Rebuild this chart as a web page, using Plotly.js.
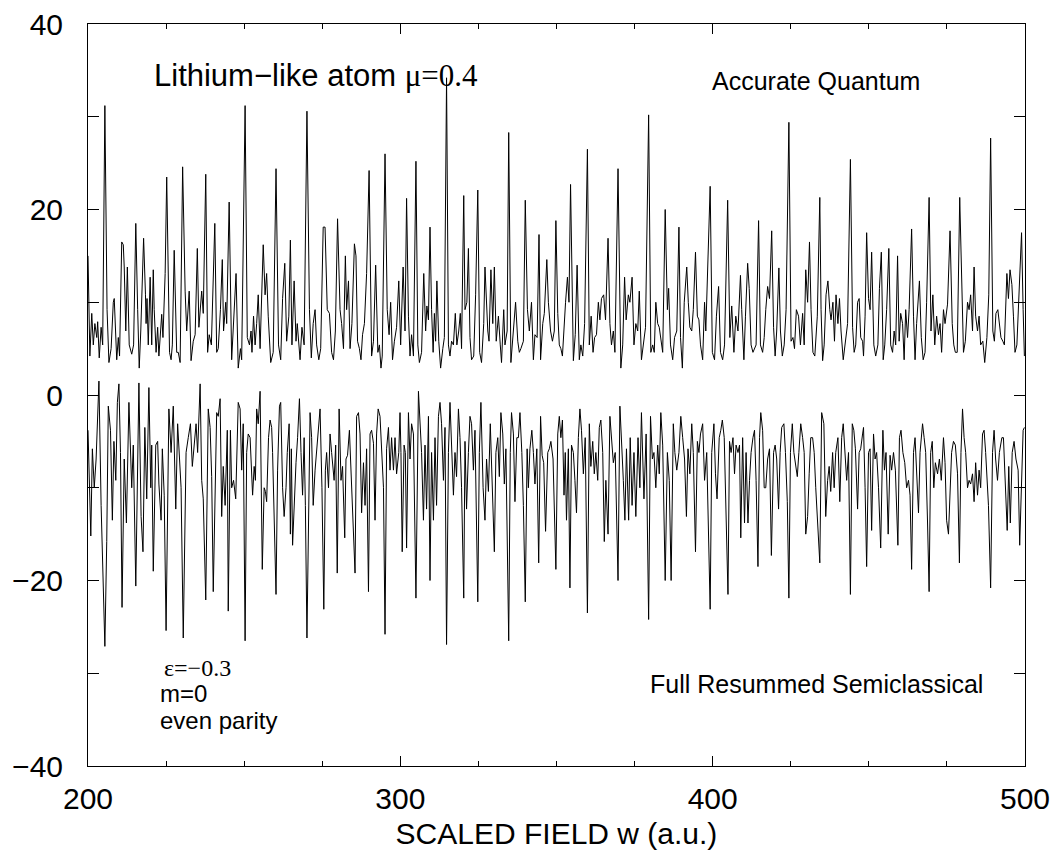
<!DOCTYPE html>
<html><head><meta charset="utf-8">
<script src="https://cdn.plot.ly/plotly-3.0.1.min.js"></script>
<style>html,body{margin:0;padding:0;background:#fff}</style>
</head><body>
<div id="chart" style="width:1055px;height:852px"></div>
<script>
// Accurate quantum curve, read as [w, value] pairs in six pieces
const quantum1 = [[200.0,15.0],[200.6,4.2],[201.2,8.8],[201.7,5.4],[202.2,7.7],[202.8,6.2],[203.1,7.9],[203.6,4.0],[204.2,7.3],[204.7,5.4],[205.4,31.2],[206.1,9.2],[206.7,3.5],[207.4,5.0],[208.1,10.0],[208.4,10.4],[209.2,3.8],[209.7,6.2],[210.1,4.2],[210.8,16.5],[211.3,16.2],[211.6,13.8],[212.1,6.9],[212.6,13.8],[213.2,5.4],[214.0,4.4],[214.6,5.4],[215.3,18.5],[215.9,9.2],[216.4,2.9],[216.9,6.9],[217.8,16.9],[218.4,10.8],[218.6,7.7],[218.9,10.4],[219.3,5.4],[219.9,12.7],[220.4,5.4],[220.9,13.5],[221.2,9.2],[221.8,4.6],[222.3,7.3],[222.7,4.2],[223.6,8.7],[224.0,6.2],[224.7,13.1],[225.2,23.5],[225.7,9.2],[226.1,4.6],[226.6,3.8],[227.0,5.4],[227.6,15.6],[228.4,4.6],[228.9,4.6],[229.5,3.5],[230.3,24.6],[231.1,11.2],[231.6,6.9],[232.4,11.2],[233.0,3.7],[233.7,5.8],[234.3,6.5],[235.0,15.8],[235.5,7.3],[236.4,11.2],[236.9,8.8],[237.7,23.8],[238.3,4.6],[238.8,6.5],[239.5,5.4],[240.6,18.5],[241.2,4.6],[241.7,5.0],[242.4,9.2],[243.0,14.6],[243.4,6.9],[244.1,10.0],[244.4,7.7],[245.2,20.8],[246.0,3.8],[246.7,8.5],[247.4,13.1],[248.1,2.9],[248.8,5.0],[249.2,3.8]];
const quantum2 = [[250.3,31.2],[251.0,6.2],[251.7,5.4],[252.2,6.9],[252.5,4.6],[253.0,8.5],[253.5,5.4],[254.0,7.7],[254.5,10.8],[255.1,5.0],[256.1,16.2],[256.7,10.8],[257.2,13.1],[257.7,8.5],[258.5,3.5],[259.3,4.6],[260.2,24.4],[261.0,5.4],[261.7,3.8],[262.3,10.4],[263.0,14.2],[263.6,5.8],[264.3,8.5],[264.8,16.7],[265.3,5.4],[266.0,12.3],[266.6,5.8],[267.0,7.7],[267.9,3.8],[268.5,7.3],[269.2,5.4],[270.1,30.6],[270.9,9.2],[271.5,4.0],[272.1,7.7],[272.7,9.2],[273.2,5.4],[273.9,3.8],[274.5,5.0],[275.3,18.1],[275.9,18.1],[276.6,9.2],[277.3,8.8],[278.0,4.6],[278.6,3.8],[279.2,6.9],[279.9,19.0],[280.7,9.2],[281.2,7.7],[281.8,5.0],[282.4,15.0],[282.8,9.2],[283.4,12.3],[283.9,5.0],[284.5,7.7],[285.3,16.3],[285.8,15.0],[286.3,5.8],[286.9,5.0],[287.4,3.8],[287.9,6.5],[288.5,7.7],[289.2,13.1],[290.0,24.2],[290.8,4.2],[291.4,5.8],[292.1,14.0],[292.8,4.6],[293.3,5.4],[293.8,2.9],[294.2,4.2],[295.1,26.0],[295.8,9.2],[296.4,6.5],[296.9,10.0],[297.5,3.8],[298.1,5.8],[298.8,7.3],[299.5,12.3]];
const quantum3 = [[300.1,5.4],[300.9,13.8],[301.5,6.9],[302.0,21.2],[302.6,8.5],[303.1,4.2],[303.6,6.5],[304.2,4.2],[305.0,25.2],[305.6,5.4],[306.1,3.5],[306.8,4.6],[307.5,13.1],[308.1,6.9],[308.5,9.6],[309.0,8.1],[309.5,18.1],[310.0,9.2],[310.5,4.6],[310.9,8.8],[311.3,5.8],[311.7,12.3],[312.3,5.8],[312.9,2.9],[313.6,5.0],[314.1,6.2],[314.8,34.2],[315.4,5.4],[315.9,4.2],[316.4,5.8],[317.0,5.4],[317.6,8.8],[318.1,5.4],[318.7,6.9],[319.2,8.8],[319.6,5.0],[320.3,21.5],[320.7,9.2],[321.3,10.0],[321.8,15.8],[322.3,6.2],[322.8,3.8],[323.5,4.2],[324.1,10.8],[324.8,22.1],[325.4,4.6],[326.0,3.5],[326.7,7.7],[327.1,13.8],[327.5,10.0],[328.0,6.9],[328.4,5.8],[329.0,13.5],[329.6,7.7],[330.1,13.8],[330.7,5.8],[331.4,8.5],[332.0,5.4],[332.4,3.5],[333.1,9.2],[333.5,5.4],[334.2,6.9],[334.7,28.3],[335.4,3.5],[336.2,6.5],[336.9,10.0],[337.6,5.8],[338.1,4.6],[338.6,5.0],[339.4,5.8],[340.0,21.0],[340.7,9.2],[341.3,6.9],[342.0,10.0],[342.6,3.8],[343.1,6.5],[343.8,6.2],[344.4,17.3],[344.9,3.8],[345.6,7.7],[346.1,8.8],[346.9,14.6],[347.4,10.0],[348.1,6.9],[348.7,5.8],[349.3,6.9]];
const quantum4 = [[349.8,18.8],[350.4,8.8],[350.9,5.4],[351.4,5.0],[351.9,4.2],[352.4,7.7],[352.9,10.0],[353.5,12.7],[354.0,10.0],[354.5,22.7],[355.4,3.7],[356.0,6.5],[356.6,14.0],[357.3,3.8],[357.8,5.4],[358.4,4.2],[359.0,7.7],[359.9,26.5],[360.5,5.4],[361.1,8.5],[361.7,4.6],[362.2,6.2],[362.8,6.5],[363.4,10.0],[363.9,8.1],[364.4,10.4],[365.1,10.8],[365.7,8.1],[366.5,16.9],[367.1,7.7],[367.6,5.4],[368.2,6.9],[368.7,4.6],[369.7,24.4],[370.6,2.9],[371.2,5.4],[371.8,12.7],[372.3,8.1],[373.0,10.8],[373.5,10.0],[374.2,12.7],[374.8,5.4],[375.4,7.7],[376.0,6.9],[376.5,11.2],[377.2,3.8],[378.0,5.8],[378.5,7.3],[379.5,30.2],[380.2,4.6],[380.8,5.4],[381.3,4.6],[381.8,10.0],[382.4,7.7],[382.9,7.3],[383.4,6.2],[384.0,4.6],[384.8,20.0],[385.5,9.2],[385.9,11.5],[386.5,5.4],[387.2,3.8],[387.8,6.2],[388.5,6.9],[389.2,18.1],[389.7,6.2],[390.3,2.9],[390.9,10.0],[391.7,13.8],[392.2,10.0],[392.7,7.3],[393.3,6.9],[393.8,9.2],[394.5,15.4],[395.1,8.5],[395.6,8.1],[396.1,5.4],[396.8,3.8],[397.4,10.0],[397.8,6.9]];
const quantum5 = [[399.2,22.5],[399.9,4.6],[400.6,3.8],[401.2,8.5],[401.9,11.7],[402.5,4.6],[403.2,3.8],[403.8,5.4],[404.8,21.0],[405.5,6.2],[406.1,9.6],[406.8,4.6],[407.4,8.5],[408.1,6.9],[408.9,12.9],[409.3,9.2],[410.0,3.8],[410.5,8.5],[411.2,14.2],[411.7,11.5],[412.3,5.4],[412.9,4.6],[413.4,5.0],[413.9,5.4],[414.7,18.8],[415.3,5.4],[416.0,4.6],[416.5,6.2],[417.0,9.2],[417.6,11.7],[418.2,10.4],[418.9,17.7],[419.5,7.3],[420.0,4.2],[420.5,6.9],[421.2,13.7],[421.7,6.9],[422.3,4.2],[422.9,5.4],[423.5,9.2],[424.4,29.4],[425.1,5.8],[425.7,6.2],[426.2,5.0],[426.8,9.2],[427.5,8.5],[428.1,5.4],[428.8,8.8],[429.3,5.4],[429.8,13.5],[430.4,10.0],[431.0,16.5],[431.5,9.2],[432.1,4.6],[432.7,4.2],[433.5,8.5],[434.3,21.3],[434.7,9.2],[435.2,3.7],[435.7,5.4],[436.3,10.8],[436.9,12.3],[437.5,9.2],[437.9,8.1],[438.5,10.0],[439.0,5.8],[439.5,10.8],[440.1,7.7],[440.6,10.4],[441.1,6.9],[441.8,3.8],[442.4,5.8],[443.2,7.7],[444.1,25.4],[444.8,7.3],[445.3,4.6],[445.8,5.4],[446.4,10.0],[446.9,10.4],[447.4,6.2],[448.0,5.8]];
const quantum6 = [[448.3,4.2],[448.8,8.5],[449.3,17.5],[449.9,10.4],[450.4,9.2],[450.9,15.4],[451.6,5.4],[452.2,4.2],[452.9,5.4],[453.4,11.5],[454.0,15.4],[454.6,3.8],[455.1,5.4],[455.7,9.2],[456.4,15.8],[457.0,5.4],[457.6,4.6],[458.1,6.9],[458.6,5.4],[459.2,15.0],[459.7,5.8],[460.2,8.8],[460.8,7.7],[461.3,3.8],[461.8,9.2],[462.4,6.2],[462.9,9.2],[463.7,17.9],[464.3,8.5],[464.8,3.8],[465.3,7.7],[466.2,12.3],[466.8,6.2],[467.4,3.8],[468.0,4.6],[468.5,10.0],[469.3,21.3],[469.9,6.9],[470.5,10.8],[471.1,5.4],[471.7,8.5],[472.3,6.5],[472.8,7.7],[473.3,4.6],[473.9,9.2],[474.4,7.7],[475.2,9.8],[476.0,17.7],[476.7,7.7],[477.2,5.4],[477.7,4.6],[478.3,4.6],[479.1,21.3],[479.8,9.2],[480.3,4.6],[480.9,5.8],[481.6,10.0],[482.1,9.2],[482.6,10.8],[483.2,6.9],[483.7,13.8],[484.2,8.5],[484.8,6.9],[485.3,8.5],[485.8,5.4],[486.5,5.8],[487.1,3.5],[487.8,6.2],[488.4,10.8],[489.0,27.7],[489.7,6.9],[490.2,5.8],[490.7,8.8],[491.3,9.2],[491.8,7.3],[492.3,6.2],[492.9,5.8],[493.4,5.4],[494.2,13.1],[494.7,10.4],[495.2,13.5],[495.8,11.9],[496.3,8.5],[496.8,4.6],[497.4,5.4],[498.0,10.0],[498.9,17.5],[499.4,9.2],[499.8,4.2]];

// Full resummed semiclassical curve (shifted below), [w, value] pairs
const semi1 = [[200.0,-3.8],[200.3,-8.1],[200.9,-15.2],[201.4,-5.8],[202.0,-10.0],[202.6,-6.9],[203.3,0.4],[203.5,1.5],[204.2,-11.9],[204.9,-20.8],[205.4,-27.1],[206.0,-15.8],[206.5,-1.2],[207.2,-3.8],[207.8,-13.5],[208.3,-5.0],[208.9,-9.2],[209.4,-0.8],[209.9,1.2],[210.4,-6.2],[210.9,-22.9],[211.6,-6.9],[212.3,-13.8],[213.1,-0.8],[214.0,-10.0],[214.5,-5.4],[215.3,-20.6],[216.3,1.3],[217.0,-13.1],[217.6,-16.9],[218.2,-3.5],[218.8,-11.2],[219.5,0.8],[220.1,-10.0],[220.4,-5.4],[220.9,-19.0],[221.7,-5.4],[222.3,-5.0],[222.7,-9.6],[223.4,-13.5],[223.8,-5.8],[224.4,-10.8],[225.0,-25.4],[225.9,-1.5],[226.6,-6.2],[227.3,-1.2],[228.1,-12.3],[228.7,-3.1],[229.2,-6.2],[229.8,-10.0],[230.5,-26.2],[231.4,-6.2],[232.1,-4.6],[232.8,-3.1],[233.4,-7.7],[233.9,-5.4],[234.6,-3.1],[235.1,-6.2],[235.9,1.2],[236.4,-9.2],[236.9,-11.2],[237.7,-22.1],[238.5,-1.5],[239.1,-3.5],[239.6,-8.8],[240.1,-21.2],[241.2,-1.9],[241.7,-2.3],[242.3,-0.4],[242.8,-13.1],[243.3,-7.7],[243.9,-11.9],[244.6,-3.8],[244.9,-23.3],[245.6,-3.8],[246.0,-10.0],[246.6,-9.2],[247.3,-11.2],[248.1,-0.8],[248.7,-1.5],[249.2,-8.1],[249.7,-3.1]];
const semi2 = [[250.3,-26.5],[250.8,-6.2],[251.3,-4.2],[251.9,-4.6],[252.4,-8.5],[252.7,-10.8],[253.2,-7.7],[253.6,-9.2],[254.0,-1.5],[254.5,-3.1],[255.1,0.4],[255.4,-6.9],[255.8,-18.8],[256.4,-10.0],[256.8,-10.4],[257.2,-11.5],[257.8,-4.6],[258.3,-2.7],[258.8,-3.5],[259.1,-6.2],[259.7,-13.8],[260.2,-21.5],[260.7,-8.1],[261.3,-1.2],[261.7,-0.8],[262.3,-10.0],[262.8,-13.1],[263.4,-10.0],[263.8,-6.2],[264.4,-3.1],[264.8,-15.0],[265.1,-5.8],[265.5,-16.2],[266.1,-10.0],[266.6,-7.3],[267.1,-4.6],[267.7,-0.4],[268.2,-6.2],[268.7,-10.8],[269.2,-4.6],[269.6,-11.9],[270.1,-26.2],[270.7,-10.0],[271.1,-1.9],[271.6,-4.6],[272.1,-11.9],[272.7,-8.1],[273.2,-6.2],[273.8,-3.1],[274.3,-1.5],[274.9,-10.0],[275.5,-23.1],[276.0,-8.1],[276.4,-6.2],[277.0,-10.0],[277.5,-4.2],[278.0,-6.2],[278.8,-9.2],[279.3,-5.4],[279.8,-19.2],[280.4,-1.5],[281.0,-9.2],[281.5,-7.7],[282.2,-15.4],[282.6,-6.9],[283.1,-6.5],[283.7,-3.8],[284.2,-8.1],[284.7,-10.8],[285.5,-19.2],[286.0,-2.3],[286.6,-1.9],[287.1,-4.2],[287.6,-12.7],[288.2,-7.3],[288.7,-11.9],[289.2,-5.8],[289.8,-21.2],[290.3,-4.2],[290.8,-3.8],[291.4,-5.2],[291.9,-13.5],[292.4,-4.2],[292.9,-1.5],[293.5,-2.3],[294.0,-5.8],[294.6,-10.0],[295.1,-25.8],[295.6,-5.8],[296.2,-3.5],[296.7,-8.1],[297.2,-4.6],[297.8,-8.1],[298.3,-4.6],[298.8,-8.5],[299.5,-6.2]];
const semi3 = [[299.9,-1.9],[300.2,-6.2],[300.6,-16.9],[301.2,-5.4],[301.6,-6.2],[302.0,-16.5],[302.6,-1.9],[303.1,-6.9],[303.6,-3.1],[304.2,-4.2],[305.0,-21.9],[305.8,0.4],[306.3,-2.3],[306.8,-6.2],[307.4,-13.5],[307.9,-5.4],[308.4,-12.3],[309.0,-2.3],[309.5,-20.0],[310.0,-6.2],[310.6,-13.5],[311.1,-4.6],[311.6,-11.9],[312.2,-2.3],[312.7,-0.8],[313.2,-3.1],[313.8,-9.2],[314.3,-3.5],[314.8,-26.9],[315.4,-6.2],[315.9,-0.8],[316.4,-5.4],[317.0,-10.8],[317.5,-6.2],[318.0,-8.8],[318.6,-1.5],[319.1,-4.6],[319.6,-10.0],[320.3,-21.9],[320.7,-5.0],[321.2,-12.3],[321.8,-6.2],[322.3,-2.3],[322.8,-3.1],[323.4,-8.1],[323.9,-3.8],[324.8,-22.3],[325.3,-6.2],[325.8,-0.8],[326.5,-10.0],[327.1,-13.5],[327.6,-6.9],[328.2,-10.4],[328.8,-3.1],[329.4,-9.2],[330.1,-16.9],[330.6,-6.2],[331.2,-4.6],[331.7,-8.8],[332.2,-1.9],[332.8,-4.2],[333.3,-9.6],[333.8,-5.8],[334.7,-26.5],[335.2,-6.2],[335.6,-1.9],[336.2,-4.2],[336.7,-11.5],[337.3,-4.6],[337.8,-4.6],[338.3,-1.9],[338.9,-6.2],[339.4,-11.9],[340.0,-22.3],[340.6,-5.8],[341.0,-10.0],[341.5,-5.8],[342.1,-3.8],[342.6,-6.2],[343.1,-9.6],[343.7,-5.8],[344.3,-18.1],[344.9,-2.3],[345.4,-6.5],[345.9,-7.3],[346.5,-14.7],[347.2,-6.2],[347.7,-5.8],[348.2,-5.0],[348.9,-6.9]];
const semi4 = [[349.8,-18.8],[350.4,-4.2],[350.9,-2.3],[351.4,-4.6],[351.9,-2.7],[352.4,-10.8],[352.8,-6.2],[353.2,-13.5],[353.8,-5.8],[354.3,-20.8],[354.8,-5.4],[355.4,-6.2],[355.9,-9.2],[356.4,-12.7],[357.0,-4.6],[357.5,-1.5],[358.0,-3.8],[358.6,-8.5],[359.2,-4.6],[359.9,-23.5],[360.5,-3.1],[361.0,-7.7],[361.6,-5.0],[362.1,-8.5],[362.6,-6.2],[363.2,-9.2],[363.7,-3.5],[364.2,-2.7],[364.8,-6.2],[365.3,-15.8],[365.8,-9.2],[366.5,-15.0],[367.1,-2.3],[367.6,-4.6],[368.2,-7.3],[368.8,-6.2],[369.7,-20.0],[370.3,-1.2],[370.8,-5.8],[371.4,-9.2],[371.9,-13.5],[372.4,-5.8],[373.1,-13.5],[373.6,-4.6],[374.2,-11.9],[374.8,-6.2],[375.4,-13.1],[376.1,-4.6],[376.7,-10.0],[377.2,-1.9],[378.0,-11.2],[378.7,-4.2],[379.5,-24.2],[380.1,-2.3],[380.7,-6.9],[381.2,-6.2],[381.8,-10.0],[382.4,-5.4],[382.9,-8.5],[383.4,-1.9],[384.0,-5.4],[384.8,-20.0],[385.5,-6.2],[386.1,-9.2],[386.7,-20.0],[387.4,-3.1],[387.9,-6.2],[388.5,-8.1],[389.2,-6.2],[389.8,-2.3],[390.4,-4.6],[391.0,-6.9],[391.6,-13.1],[392.1,-5.8],[392.7,-8.5],[393.3,-3.1],[393.8,-6.2],[394.5,-16.9],[395.1,-5.0],[395.6,-6.2],[396.1,-4.2],[396.8,-3.1],[397.4,-9.2],[398.1,-6.2]];
const semi5 = [[399.2,-23.1],[399.7,-6.2],[400.4,-3.1],[400.9,-8.5],[401.4,-11.2],[402.1,-4.6],[402.6,-3.8],[403.1,-2.7],[403.7,-4.6],[404.2,-11.2],[404.9,-21.5],[405.4,-5.0],[405.9,-6.2],[406.5,-4.6],[407.0,-8.5],[407.5,-5.4],[408.1,-6.2],[408.6,-5.4],[409.0,-15.4],[409.6,-4.6],[410.2,-13.8],[410.7,-6.2],[411.3,-13.8],[411.8,-9.2],[412.3,-6.2],[412.9,-4.6],[413.4,-3.8],[413.9,-9.2],[414.5,-18.5],[415.0,-4.6],[415.4,-1.9],[416.0,-3.8],[416.5,-10.0],[417.0,-10.0],[417.6,-6.9],[418.2,-5.8],[418.8,-17.3],[419.5,-6.2],[420.0,-5.4],[420.5,-6.9],[421.1,-12.3],[421.6,-6.2],[422.1,-3.5],[422.8,-3.1],[423.3,-6.2],[423.9,-11.5],[424.4,-21.9],[424.9,-6.2],[425.5,-3.1],[426.0,-6.2],[426.5,-7.7],[427.1,-8.8],[427.6,-6.2],[428.2,-3.1],[428.8,-4.6],[429.3,-6.2],[429.8,-15.0],[430.4,-13.1],[430.9,-8.5],[431.4,-4.6],[432.0,-4.6],[432.5,-6.2],[433.0,-10.0],[433.7,-13.8],[434.3,-18.1],[434.9,-1.9],[435.6,-3.1],[436.2,-13.1],[436.8,-9.2],[437.3,-7.7],[437.8,-10.4],[438.4,-6.2],[438.9,-10.0],[439.4,-6.2],[440.1,-4.6],[440.7,-11.5],[441.3,-4.6],[441.8,-3.1],[442.4,-6.2],[442.9,-9.2],[443.5,-6.2],[444.1,-21.5],[444.7,-3.1],[445.2,-3.8],[445.7,-5.8],[446.4,-12.3],[446.9,-6.2],[447.4,-5.8],[448.0,-4.2]];
const semi6 = [[448.3,-3.5],[448.8,-10.0],[449.3,-18.5],[449.9,-6.2],[450.4,-5.8],[450.9,-14.6],[451.5,-4.2],[452.0,-6.9],[452.5,-6.2],[453.1,-10.0],[453.8,-16.5],[454.5,-3.8],[455.0,-8.1],[455.5,-6.2],[456.2,-15.0],[456.8,-6.5],[457.3,-8.1],[457.9,-6.2],[458.5,-8.1],[459.3,-16.2],[459.8,-4.6],[460.3,-3.8],[460.9,-6.2],[461.5,-7.3],[462.1,-10.0],[462.7,-9.2],[463.2,-10.8],[463.7,-18.8],[464.3,-6.2],[464.8,-4.6],[465.3,-8.5],[465.9,-12.7],[466.4,-6.2],[467.2,-3.1],[467.7,-4.6],[468.2,-6.2],[468.8,-13.8],[469.3,-21.2],[469.8,-6.2],[470.3,-5.0],[470.8,-10.0],[471.3,-7.3],[472.0,-8.5],[472.6,-6.9],[473.2,-9.2],[473.9,-4.6],[474.4,-7.3],[474.9,-13.5],[475.5,-15.0],[476.0,-10.0],[476.5,-6.2],[477.1,-5.0],[477.7,-5.4],[478.4,-8.5],[479.0,-18.1],[479.5,-6.2],[480.0,-1.5],[480.5,-4.6],[481.0,-6.2],[481.6,-10.0],[482.1,-9.2],[482.6,-9.6],[483.2,-8.5],[483.7,-11.5],[484.2,-7.3],[484.8,-10.8],[485.3,-8.1],[485.8,-10.0],[486.4,-4.2],[486.9,-3.8],[487.4,-6.2],[488.3,-11.9],[489.0,-20.8],[489.6,-6.2],[490.1,-3.8],[490.6,-6.9],[491.2,-9.2],[491.8,-6.2],[492.6,-4.6],[493.1,-4.6],[493.7,-8.8],[494.3,-14.6],[494.8,-7.7],[495.3,-13.8],[495.9,-6.2],[496.5,-5.0],[497.1,-6.9],[497.8,-8.1],[498.3,-16.2],[498.9,-9.2],[499.4,-3.8],[499.8,-3.5]];

const xTickVals = [200, 300, 400, 500];
const yTickVals = [-40, -20, 0, 20, 40];

const quantum = [].concat(quantum1, quantum2, quantum3, quantum4, quantum5, quantum6);
const semi = [].concat(semi1, semi2, semi3, semi4, semi5, semi6);

function lineTrace(pairs) {
  return {
    x: pairs.map(p => p[0]), y: pairs.map(p => p[1]),
    mode: 'lines', line: {color: 'black', width: 1}, hoverinfo: 'skip'
  };
}

const SANS = 'Liberation Sans, Arial, Helvetica, sans-serif';
const SERIF = 'Liberation Serif, Times New Roman, serif';

const layout = {
  width: 1055, height: 852,
  margin: {l: 88, r: 30, t: 24, b: 86},
  showlegend: false,
  paper_bgcolor: 'white', plot_bgcolor: 'white',
  font: {family: SANS, color: 'black'},
  xaxis: {
    range: [200, 500], tickmode: 'array', tickvals: xTickVals,
    ticks: 'inside', ticklen: 10, tickwidth: 1, tickcolor: 'black',
    minor: {tickmode: 'linear', tick0: 200, dtick: 25, ticks: 'inside', ticklen: 5, tickwidth: 1, tickcolor: 'black', showgrid: false},
    showline: true, linecolor: 'black', linewidth: 1, mirror: 'ticks',
    showgrid: false, zeroline: false,
    tickfont: {size: 30, family: SANS}, ticklabelstandoff: 6,
    title: {text: 'SCALED FIELD w (a.u.)', font: {size: 30, family: SANS}, standoff: 8}
  },
  yaxis: {
    range: [-40, 40], tickmode: 'array', tickvals: yTickVals,
    ticks: 'inside', ticklen: 11, tickwidth: 1, tickcolor: 'black',
    minor: {tickmode: 'linear', tick0: 0, dtick: 10, ticks: 'inside', ticklen: 11, tickwidth: 1, tickcolor: 'black', showgrid: false},
    showline: true, linecolor: 'black', linewidth: 1, mirror: 'ticks',
    showgrid: false, zeroline: false,
    tickfont: {size: 30, family: SANS}, ticklabelstandoff: 18
  },
  annotations: [
    {xref: 'x', yref: 'y', x: 220.6, y: 34.4, xanchor: 'left', yanchor: 'middle', showarrow: false,
     text: 'Lithium\u2212like atom <span style="font-family:Liberation Serif">\u03bc=0.4</span>', font: {size: 31, family: SANS}},
    {xref: 'x', yref: 'y', x: 399.2, y: 33.9, xanchor: 'left', yanchor: 'middle', showarrow: false,
     text: 'Accurate Quantum', font: {size: 25, family: SANS}},
    {xref: 'x', yref: 'y', x: 379.3, y: -31.2, xanchor: 'left', yanchor: 'middle', showarrow: false,
     text: 'Full Resummed Semiclassical', font: {size: 25, family: SANS}},
    {xref: 'x', yref: 'y', x: 223.7, y: -29.4, xanchor: 'left', yanchor: 'middle', showarrow: false,
     text: '\u03b5=\u22120.3', font: {size: 24, family: SERIF}},
    {xref: 'x', yref: 'y', x: 222.4, y: -32.2, xanchor: 'left', yanchor: 'middle', showarrow: false,
     text: 'm=0', font: {size: 24, family: SANS}},
    {xref: 'x', yref: 'y', x: 222.4, y: -35.1, xanchor: 'left', yanchor: 'middle', showarrow: false,
     text: 'even parity', font: {size: 24, family: SANS}}
  ]
};

Plotly.newPlot('chart', [lineTrace(quantum), lineTrace(semi)], layout, {staticPlot: true, displayModeBar: false});
</script>
</body></html>
